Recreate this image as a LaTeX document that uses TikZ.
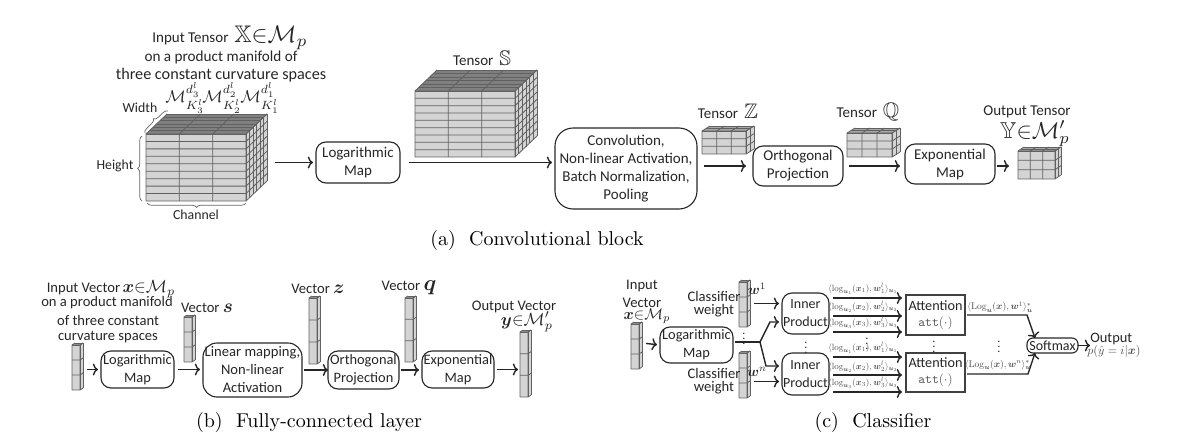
\documentclass[tikz,border=0pt]{standalone}
\usepackage{amsmath,amssymb}
\usepackage{fontspec}
\setsansfont{Carlito}
\usetikzlibrary{decorations.pathreplacing,arrows.meta}

\tikzset{
  lbl/.style={inner sep=0pt,font=\sffamily\fontsize{7.5}{9}\selectfont,align=center,text=black!85},
  fs/.style={font=\sffamily\fontsize{#1}{9}\selectfont},
  mapbox/.style={lbl,draw=black!85,line width=0.55pt,rounded corners=5pt,outer sep=0pt},
  attbox/.style={lbl,draw=black!75,line width=0.55pt,outer sep=0pt},
  cubebox/.style={inner sep=0pt,outer sep=0pt,anchor=south west},
  cubeline/.style={draw=black!62,line width=0.4pt},
  flow/.style={-{To[length=2.6pt,width=6pt]},draw=black!85,line width=0.7pt,shorten >=1.5pt,shorten <=2pt},
  flowline/.style={draw=black!85,line width=0.7pt},
  brc/.style={draw=black!60,line width=0.35pt,decorate,decoration={brace,amplitude=2.2pt}},
  caption/.style={inner sep=0pt,font=\rmfamily\fontsize{10}{12}\selectfont}
}

\newcommand\ncols{3}
\newcommand\cubetop{50}

% name, x, y, width, height, rows, depth x, depth y, slices
\newcommand\tensorcube[9]{
  \fill[black!17] (#2,#3) rectangle ++(#4,#5);
  \fill[black!\cubetop] (#2,#3) -- ++(#4,0) -- ++(#7,-#8) -- ++(-#4,0) -- cycle;
  \fill[black!17] ({#2+#4},#3) -- ++(#7,-#8) -- ++(0,#5) -- ++(-#7,#8) -- cycle;
  \foreach \k in {0,...,\ncols}
    \draw[cubeline] ({#2+\k*#4/\ncols},{#3+#5}) -- ++(0,-#5) -- ++(#7,-#8);
  \foreach \j in {0,...,#6}
    \draw[cubeline] (#2,{#3+\j*#5/#6}) -- ++(#4,0) -- ++(#7,-#8);
  \foreach \s in {0,...,#9}
    \draw[cubeline] ({#2+\s/#9*#7},{#3-\s/#9*#8}) -- ++(#4,0) -- ++(0,#5);
  \node[cubebox,minimum width={(#4+#7)*0.5pt},minimum height={(#5+#8)*0.5pt}] (#1) at (#2,{#3+#5}) {};
}

\newcommand\bm[1]{\boldsymbol{#1}}
\newcommand\mathat[2]{\scalebox{#1}{\fontsize{10}{12}\selectfont$#2$}}
\newcommand\logterm[1]{\textcolor{black!70}{\mathat{0.45}{\langle\log_{\bm{u}_{#1}}(\bm{x}_{#1}),\bm{w}^{l}_{#1}\rangle_{\bm{u}_{#1}}}}}

\begin{document}
\begin{tikzpicture}[x=0.5pt,y=-0.5pt]
\useasboundingbox (0,0) rectangle (1180,434);

% (a) convolutional block
\tensorcube{tensorX}{146}{134}{100}{67}{9}{21}{20}{6}
\tensorcube{tensorS}{415}{91}{100}{66}{9}{22}{21}{6}
\renewcommand\cubetop{35}
\tensorcube{tensorZ}{702}{131}{44}{23}{3}{8}{5}{2}
\tensorcube{tensorQ}{847}{133}{45}{24}{3}{8}{5}{2}
\tensorcube{tensorY}{1018}{151}{37}{28}{3}{6}{4}{2}

\node[lbl] (inputX) at (230,38) {Input Tensor\, \mathat{1.2}{\mathbb{X}{\in}\mathcal{M}_p}};
\node[lbl,fs=7.6] (inputXa) at (221,57) {on a product manifold of};
\node[lbl,fs=8.1] (inputXb) at (221,75) {three constant curvature spaces};
\node[lbl] (manifoldC) at (185,98) {\mathat{0.85}{\mathcal{M}_{K_3^l}^{d_3^l}}};
\node[lbl] (manifoldB) at (222,98) {\mathat{0.85}{\mathcal{M}_{K_2^l}^{d_2^l}}};
\node[lbl] (manifoldA) at (260,98) {\mathat{0.85}{\mathcal{M}_{K_1^l}^{d_1^l}}};
\node[lbl,fs=6.9] (widthX) at (140,108) {Width};
\node[lbl,fs=6.9] (heightX) at (115,166) {Height};
\node[lbl,fs=6.9] (channelX) at (196,215) {Channel};
\draw[brc] (145,133) -- (168,111);
\draw[brc] (142,201) -- (142,136);
\draw[brc] (246,203) -- (147,203);

\node[lbl] (labelS) at (482,58) {Tensor\, \mathat{1.05}{\mathbb{S}}};
\node[lbl] (labelZ) at (728,111) {Tensor\, \mathat{1.05}{\mathbb{Z}}};
\node[lbl] (labelQ) at (868,112) {Tensor\, \mathat{1.05}{\mathbb{Q}}};
\node[lbl] (labelY) at (1027,112) {Output Tensor};
\node[lbl] (labelYa) at (1035,134) {\mathat{1.15}{\mathbb{Y}{\in}\mathcal{M}'_p}};

\node[mapbox,minimum width=42pt,minimum height=20.5pt] (logA) at (358,162.5) {Logarithmic\\Map};
\node[mapbox,minimum width=71pt,minimum height=40.5pt,rounded corners=9pt] (convA) at (626,168.5) {Convolution,\\Non-linear Activation,\\Batch Normalization,\\Pooling};
\node[mapbox,minimum width=45pt,minimum height=20pt] (orthA) at (798,166) {Orthogonal\\Projection};
\node[mapbox,minimum width=45pt,minimum height=20pt] (expA) at (950,164) {Exponential\\Map};

\draw[flow,shorten <=4pt] (tensorX.east |- logA.west) -- (logA.west);
\draw[flow,shorten <=4.5pt] (logA.east) -- (logA.east -| convA.west);
\draw[flow,shorten <=3.5pt,shorten >=3.5pt] (convA.east |- orthA.west) -- (orthA.west);
\draw[flow,shorten <=3pt,shorten >=2.5pt] (orthA.east) -- (orthA.east -| expA.west);
\draw[flow,shorten <=1pt,shorten >=1pt] (expA.east |- tensorY.south) ++(0,-13) -- ++(16,0);

\node[caption] (captionA) at (537,240) {(a)~~Convolutional block};

% (b) fully-connected layer
\renewcommand\ncols{1}
\tensorcube{vecX}{72}{345}{8}{45}{3}{3}{2}{1}
\tensorcube{vecS}{184}{317}{8}{45}{3}{3}{2}{1}
\tensorcube{vecZ}{309}{298}{8}{66}{3}{3}{2}{1}
\tensorcube{vecQ}{405}{298}{8}{64}{3}{3}{2}{1}
\tensorcube{vecY}{520}{332}{8}{65}{3}{3}{2}{1}

\node[lbl,fs=7.3] (inputV) at (111,289) {Input Vector\,\mathat{0.88}{\bm{x}{\in}\mathcal{M}_p}};
\node[lbl,fs=7.3] (inputVa) at (107,303) {on a product manifold};
\node[lbl,fs=7.3] (inputVb) at (108,320) {of three constant};
\node[lbl,fs=7.3] (inputVc) at (108,337) {curvature spaces};
\node[lbl,fs=7.3] (labelVs) at (207,308) {Vector \mathat{0.95}{\bm{s}}};
\node[lbl,fs=7.3] (labelVz) at (318,289) {Vector \mathat{0.95}{\bm{z}}};
\node[lbl,fs=7.3] (labelVq) at (409,288) {Vector \mathat{1.1}{\bm{q}}};
\node[lbl,fs=7.3] (labelVy) at (514,307) {Output Vector};
\node[lbl] (labelVya) at (527,322) {\mathat{0.88}{\bm{y}{\in}\mathcal{M}'_p}};

\node[mapbox,fs=7.2,minimum width=36.5pt,minimum height=18.5pt] (logB) at (137.5,369.5) {Logarithmic\\Map};
\node[mapbox,fs=7.3,minimum width=49.5pt,minimum height=27pt,rounded corners=7pt] (linB) at (252.5,370) {Linear mapping,\\Non-linear\\Activation};
\node[mapbox,fs=7.2,minimum width=35.5pt,minimum height=19pt] (orthB) at (363.5,370) {Orthogonal\\Projection};
\node[mapbox,fs=7.2,minimum width=36pt,minimum height=18.5pt] (expB) at (458,369.5) {Exponential\\Map};

\draw[flow] (vecX.east |- logB.west) -- (logB.west);
\draw[flow] (logB.east) -- (logB.east -| linB.west);
\draw[flow,shorten >=0pt,shorten <=1pt] (linB.east) -- (linB.east -| orthB.west);
\draw[flow,shorten <=1pt] (orthB.east) -- (orthB.east -| expB.west);
\draw[flow,shorten <=1.5pt,shorten >=1pt] (expB.east) -- (expB.east -| vecY.west);

\node[caption] (captionB) at (309,422) {(b)~~Fully-connected layer};

% (c) classifier
\tensorcube{vecC}{631}{324}{8}{45}{3}{3}{2}{1}
\tensorcube{vecWa}{739}{282}{8}{45}{3}{3}{2}{1}
\tensorcube{vecWb}{739}{353}{8}{45}{3}{3}{2}{1}

\node[lbl,fs=7.3] (inputC) at (642,286) {Input};
\node[lbl,fs=7.3] (inputCa) at (642,303) {Vector};
\node[lbl] (inputCb) at (647,316) {\mathat{0.78}{\bm{x}{\in}\mathcal{M}_p}};
\node[lbl,fs=7.3] (weightA) at (714,296) {Classifier};
\node[lbl,fs=7.3] (weightAa) at (714,311) {weight};
\node[lbl,fs=7.3] (weightB) at (714,373) {Classifier};
\node[lbl,fs=7.3] (weightBa) at (714,388) {weight};
\node[lbl] (labelWa) at (757,289) {\mathat{0.7}{\bm{w}^1}};
\node[lbl] (labelWb) at (757,372) {\mathat{0.7}{\bm{w}^n}};

\node[mapbox,fs=7.2,minimum width=36.5pt,minimum height=18pt] (logC) at (696.5,345) {Logarithmic\\Map};
\node[mapbox,fs=7,minimum width=23.5pt,minimum height=20.5pt] (innerA) at (805.5,313.5) {Inner\\Product};
\node[mapbox,fs=7,minimum width=23.5pt,minimum height=21pt] (innerB) at (805.5,374) {Inner\\Product};
\node[attbox,fs=7.1,minimum width=29.5pt,minimum height=20pt] (attA) at (935.5,315) {Attention\\[-1pt]\textcolor{black!65}{\mathat{0.65}{\mathtt{att}(\cdot)}}};
\node[attbox,fs=7.1,minimum width=29.5pt,minimum height=19.5pt] (attB) at (935.5,372.5) {Attention\\[-1pt]\textcolor{black!65}{\mathat{0.65}{\mathtt{att}(\cdot)}}};
\node[mapbox,fs=7,minimum width=25.5pt,minimum height=7.5pt,rounded corners=3pt] (softC) at (1052.5,345.5) {Softmax};

\coordinate (forkC) at (760,342);
\draw[flowline] (logC.east) ++(2,-3) -- (forkC);
\draw[flow,shorten <=0pt] (forkC) -- (770,322) -- (innerA.west |- 0,322);
\draw[flow,shorten <=0pt] (forkC) -- (766,366) -- (innerB.west |- 0,366);
\draw[flow] (vecWa.east) -- (vecWa.east -| innerA.west);
\draw[flow] ([yshift=-3.5pt]vecWb.east) -- ([yshift=-3.5pt]vecWb.east -| innerB.west);
\draw[flow] (vecC.east |- logC.west) ++(0,-2) -- (logC.west);

\foreach \i/\ya/\yb/\ta/\tb in {1/298/357/289/348,2/316/375/307/367,3/332/392/323/383}{
  \coordinate (outA\i) at (833,\ya);
  \coordinate (endA\i) at (905,\ya);
  \coordinate (outB\i) at (833,\yb);
  \coordinate (endB\i) at (905,\yb);
  \draw[flow,shorten <=0pt] (outA\i) -- (endA\i);
  \draw[flow,shorten <=0pt] (outB\i) -- (endB\i);
  \node[lbl] (termA\i) at (863,\ta) {\logterm{\i}};
  \node[lbl] (termB\i) at (863,\tb) {\logterm{\i}};
}

\node[lbl] (dotsA) at (744,335) {\mathat{0.6}{\vdots}};
\node[lbl] (dotsB) at (806,344) {\mathat{0.6}{\vdots}};
\node[lbl] (dotsC) at (867,340) {\mathat{0.6}{\vdots}};
\node[lbl] (dotsD) at (934,343) {\mathat{0.6}{\vdots}};
\node[lbl] (dotsE) at (999,343) {\mathat{0.6}{\vdots}};

\coordinate (kneeA) at (1027,315);
\coordinate (kneeB) at (1028,374);
\draw[flow,shorten >=0pt,shorten <=1pt] (attA.east) -- (kneeA) -- (softC.north -| 1035,0);
\draw[flow,shorten >=0pt,shorten <=1pt] (attB.east |- kneeB) -- (kneeB) -- (softC.south -| 1035,0);
\node[lbl] (termC) at (1000,307) {\textcolor{black!70}{\mathat{0.48}{\langle\mathrm{Log}_{\bm{u}}(\bm{x}),\bm{w}^{1}\rangle_{\bm{u}}^{*}}}};
\node[lbl] (termD) at (998,365) {\textcolor{black!70}{\mathat{0.48}{\langle\mathrm{Log}_{\bm{u}}(\bm{x}),\bm{w}^{n}\rangle_{\bm{u}}^{*}}}};

\node[lbl,fs=7.2,anchor=west] (outC) at (1090,339) {Output};
\node[lbl,anchor=west] (outCa) at (1087,351) {\textcolor{black!70}{\mathat{0.6}{p(\hat{y}=i|\bm{x})}}};
\draw[flow,shorten <=0pt,shorten >=0pt] (softC.east) -- ++(12,0);

\node[caption] (captionC) at (873,422) {(c)~~Classifier};

\end{tikzpicture}
\end{document}
